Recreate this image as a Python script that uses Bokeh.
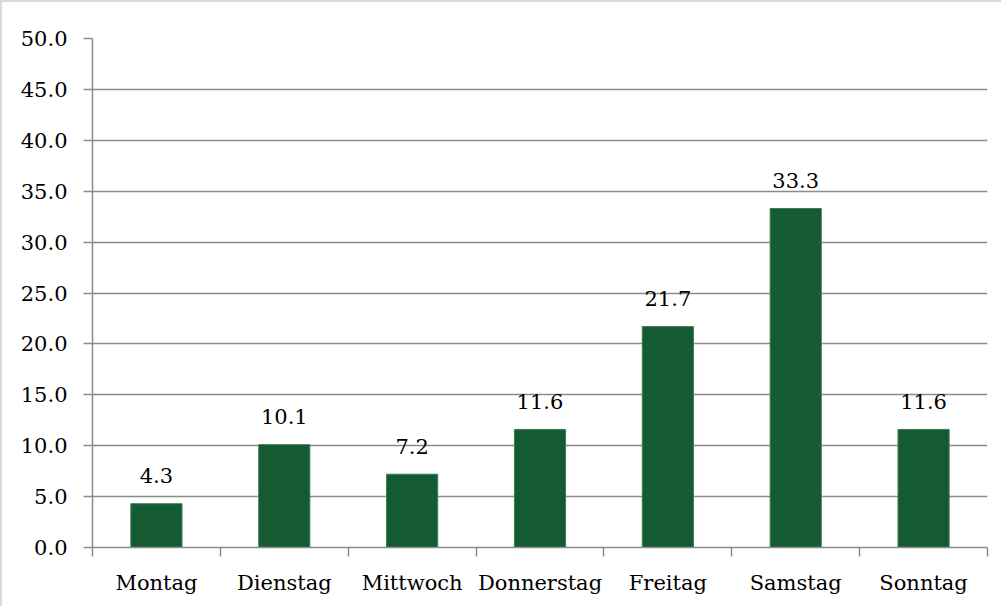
from bokeh.plotting import figure
from bokeh.models import ColumnDataSource, FixedTicker, NumeralTickFormatter, Range1d
from bokeh.core.properties import value
from bokeh.embed import file_html
from bokeh.resources import INLINE

days = ["Montag", "Dienstag", "Mittwoch", "Donnerstag", "Freitag", "Samstag", "Sonntag"]
values = [4.3, 10.1, 7.2, 11.6, 21.7, 33.3, 11.6]
y_ticks = [0, 5, 10, 15, 20, 25, 30, 35, 40, 45, 50]

FONT = "DejaVu Serif"
FS = "21px"
GRAY = "#8C8C8C"

centers = [i + 0.5 for i in range(len(days))]
src = ColumnDataSource(dict(x=centers, top=values, lab=[f"{v:.1f}" for v in values]))

p = figure(width=1001, height=606, output_backend="svg", toolbar_location=None,
           x_range=Range1d(0, len(days)), y_range=Range1d(0, 50),
           min_border_left=90, min_border_top=36, min_border_right=16, min_border_bottom=61)
p.styles = {"border-top": "2px solid #D9D9D9", "border-left": "2px solid #D9D9D9"}
p.outline_line_color = None
p.background_fill_color = "white"
p.border_fill_color = "white"

p.vbar(x="x", top="top", width=0.4, source=src, fill_color="#145A32", line_color="#3F7A57", line_width=1)
p.text(x="x", y="top", text="lab", source=src, text_font=value(FONT), text_font_size=FS,
       text_align="center", text_baseline="alphabetic", y_offset=-28, text_color="black")

# y axis
p.yaxis.ticker = FixedTicker(ticks=y_ticks)
p.yaxis.formatter = NumeralTickFormatter(format="0.0")
p.yaxis.axis_line_color = GRAY
p.yaxis.axis_line_width = 1.5
p.yaxis.major_tick_line_color = GRAY
p.yaxis.major_tick_line_width = 1.5
p.yaxis.major_tick_out = 9
p.yaxis.major_tick_in = 0
p.yaxis.minor_tick_line_color = None
p.yaxis.major_label_standoff = 16
p.yaxis.major_label_text_font = FONT
p.yaxis.major_label_text_font_size = FS
p.yaxis.major_label_text_color = "black"

# x axis: labels at centers, tick marks at boundaries (minor ticks)
p.xaxis.ticker = FixedTicker(ticks=centers, minor_ticks=list(range(len(days) + 1)))
p.xaxis.major_label_overrides = {c: d for c, d in zip(centers, days)}
p.xaxis.axis_line_color = GRAY
p.xaxis.axis_line_width = 1.5
p.xaxis.major_tick_line_color = None
p.xaxis.major_tick_out = 9
p.xaxis.major_tick_in = 0
p.xaxis.minor_tick_line_color = GRAY
p.xaxis.minor_tick_line_width = 1.5
p.xaxis.minor_tick_out = 9
p.xaxis.minor_tick_in = 0
p.xaxis.major_label_standoff = 14
p.xaxis.major_label_text_font = FONT
p.xaxis.major_label_text_font_size = FS
p.xaxis.major_label_text_color = "black"

p.xgrid.grid_line_color = None
p.ygrid.ticker = FixedTicker(ticks=y_ticks)
p.ygrid.grid_line_color = GRAY
p.ygrid.grid_line_width = 1.5

open("out.html", "w").write(file_html(p, INLINE))
